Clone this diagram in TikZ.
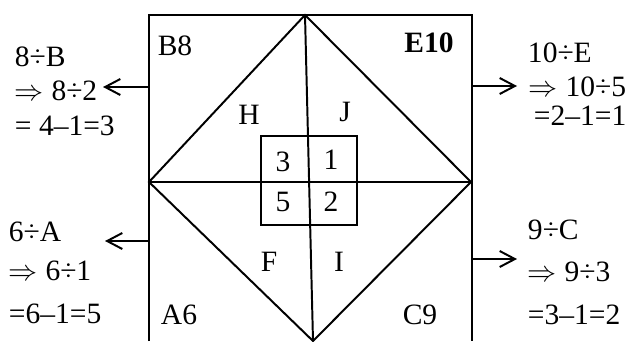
\documentclass[tikz,border=0pt]{standalone}
\usepackage{fontspec}
\setmainfont{Liberation Serif}
\usetikzlibrary{arrows.meta}

\begin{document}
\begin{tikzpicture}[
  x=0.25mm, y=-0.25mm,
  line width=1.4pt,
  txt/.style={font=\fontsize{21}{25}\selectfont, inner sep=0pt},
  calcline/.style={txt, anchor=west},
  arr/.style={-{Straight Barb[length=3.8mm, width=4mm, line width=1.4pt]}}
]
\useasboundingbox (0,0) rectangle (625,341);

% Outer square and diamond
\coordinate (tl) at (149,15);
\coordinate (tr) at (472,15);
\coordinate (bl) at (149,341);
\coordinate (br) at (472,341);
\coordinate (dT) at (305,15);
\coordinate (dL) at (149,182);
\coordinate (dR) at (471,182);
\coordinate (dB) at (313,341);
\draw (bl) -- (tl) -- (tr) -- (br);
\draw (dT) -- (dL) -- (dB) -- (dR) -- cycle;
\draw (dL) -- (dR);
\draw (dT) -- (dB);
\draw (261,136) rectangle (357,225);

% Labels inside
\node[txt] (b8) at (175,46) {B8};
\node[txt] (e10) at (429,43) {\bfseries E10};
\node[txt] (h) at (249,115) {H};
\node[txt] (j) at (345,112) {J};
\node[txt] (n3) at (283,162) {3};
\node[txt] (n1) at (331,160) {1};
\node[txt] (n5) at (283,202) {5};
\node[txt] (n2) at (331,202) {2};
\node[txt] (f) at (269,262) {F};
\node[txt] (i) at (339,262) {I};
\node[txt] (a6) at (179,315) {A6};
\node[txt] (c9) at (420,315) {C9};

% Calculations left
\node[calcline] (bq) at (14,57) {8÷B};
\node[calcline] (bs) at (14,91) {\(\Rightarrow\) 8÷2};
\node[calcline] (br1) at (14,126) {= 4–1=3};
\node[calcline] (aq) at (8,232) {6÷A};
\node[calcline] (as) at (8,271) {\(\Rightarrow\) 6÷1};
\node[calcline] (ar1) at (8,314) {=6–1=5};

% Calculations right
\node[calcline] (eq) at (527,53) {10÷E};
\node[calcline] (es) at (528,87) {\(\Rightarrow\) 10÷5};
\node[calcline] (er1) at (533,116) {=2–1=1};
\node[calcline] (cq) at (527,230) {9÷C};
\node[calcline] (cs) at (527,272) {\(\Rightarrow\) 9÷3};
\node[calcline] (cr1) at (527,315) {=3–1=2};

% Arrows
\coordinate (bStart) at (149,87);
\coordinate (bEnd) at (103,87);
\coordinate (aStart) at (149,241);
\coordinate (aEnd) at (105,241);
\coordinate (eStart) at (472,86);
\coordinate (eEnd) at (517,86);
\coordinate (cStart) at (472,259);
\coordinate (cEnd) at (517,259);
\draw[arr] (bStart) -- (bEnd);
\draw[arr] (aStart) -- (aEnd);
\draw[arr] (eStart) -- (eEnd);
\draw[arr] (cStart) -- (cEnd);

\end{tikzpicture}
\end{document}
